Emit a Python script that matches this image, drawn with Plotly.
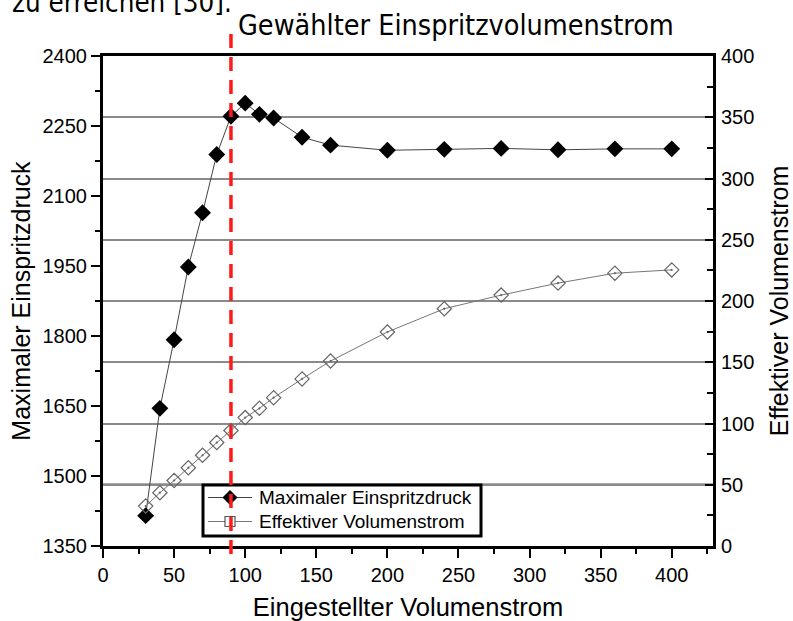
import plotly.graph_objects as go

# ---- data ----
eingestellt = [30, 40, 50, 60, 70, 80, 90, 100, 110, 120, 140, 160, 200, 240, 280, 320, 360, 400]
max_druck = [1415, 1645, 1792, 1948, 2064, 2189, 2271, 2299, 2275, 2267, 2226, 2209, 2198, 2200, 2202, 2199, 2201, 2201]
eff_volumen = [32.6, 43.5, 53.5, 63.9, 74.1, 84.5, 94.3, 104.8, 112.4, 121.1, 136.4, 151.0, 174.7, 193.7, 204.8, 214.6, 222.7, 225.4]

x_ticks = [0, 50, 100, 150, 200, 250, 300, 350, 400]
y_ticks = [1350, 1500, 1650, 1800, 1950, 2100, 2250, 2400]
y2_ticks = [0, 50, 100, 150, 200, 250, 300, 350, 400]

series_names = ["Maximaler Einspritzdruck", "Effektiver Volumenstrom"]

gewaehlt_x = 90          # selected injection volume flow (red dashed marker line)
dark_grid_y2 = 50        # darker reference line

FONT = "Liberation Sans, Arial, sans-serif"
NOTE_FONT = "Tahoma, DejaVu Sans Condensed, DejaVu Sans, sans-serif"

# ---- layout geometry (pixels) ----
W, H = 793, 621
ML, MR, MT, MB = 103, 80, 56, 75
PW, PH = W - ML - MR, H - MT - MB


def fx(px):
    return (px - ML) / PW


def fy(py):
    return (H - MB - py) / PH


fig = go.Figure()

fig.add_trace(go.Scatter(
    x=eingestellt, y=max_druck, name=series_names[0],
    mode="lines+markers",
    line=dict(color="#444444", width=1),
    marker=dict(symbol="diamond", size=13, color="black", line=dict(width=0)),
    yaxis="y", showlegend=False,
))
fig.add_trace(go.Scatter(
    x=eingestellt, y=eff_volumen, name=series_names[1],
    mode="lines+markers",
    line=dict(color="#777777", width=1),
    marker=dict(symbol="diamond-open-dot", size=11, color="#666666", line=dict(width=1.2)),
    yaxis="y2", showlegend=False,
))

# ---- legend box drawn as in the original (box, sample lines, symbols, labels) ----
LEG_L, LEG_R, LEG_T, LEG_B = 203, 481, 485, 536
ROW1, ROW2 = 497.5, 521.5
SYM_X, LINE_L, LINE_R, TEXT_X = 230, 208, 252, 257
d = 7.5
s = 5

shapes = [
    dict(type="line", xref="paper", yref="y2", x0=0, x1=1,
         y0=dark_grid_y2, y1=dark_grid_y2, line=dict(color="#555555", width=2.5), layer="below"),
    # legend frame
    dict(type="rect", xref="paper", yref="paper",
         x0=fx(LEG_L), x1=fx(LEG_R), y0=fy(LEG_B), y1=fy(LEG_T),
         line=dict(color="black", width=3), fillcolor="white", layer="above"),
    dict(type="line", xref="paper", yref="paper",
         x0=fx(LINE_L), x1=fx(LINE_R), y0=fy(ROW1), y1=fy(ROW1),
         line=dict(color="#444444", width=1), layer="above"),
    dict(type="path", xref="paper", yref="paper",
         path=(f"M {fx(SYM_X)},{fy(ROW1 - d)} L {fx(SYM_X + d)},{fy(ROW1)} "
               f"L {fx(SYM_X)},{fy(ROW1 + d)} L {fx(SYM_X - d)},{fy(ROW1)} Z"),
         fillcolor="black", line=dict(width=0), layer="above"),
    dict(type="line", xref="paper", yref="paper",
         x0=fx(LINE_L), x1=fx(LINE_R), y0=fy(ROW2), y1=fy(ROW2),
         line=dict(color="#777777", width=1), layer="above"),
    dict(type="rect", xref="paper", yref="paper",
         x0=fx(SYM_X - s), x1=fx(SYM_X + s), y0=fy(ROW2 + s), y1=fy(ROW2 - s),
         fillcolor="white", line=dict(color="#555555", width=1.2), layer="above"),
    # selected volume flow marker line
    dict(type="line", xref="x", yref="paper", x0=gewaehlt_x, x1=gewaehlt_x,
         y0=fy(554), y1=fy(28), line=dict(color="#ff1a1a", width=3.5, dash="14px,9px"), layer="above"),
]

annotations = [
    dict(text=series_names[0], xref="paper", yref="paper",
         x=fx(TEXT_X), y=fy(ROW1), xanchor="left", yanchor="middle", showarrow=False,
         font=dict(family=FONT, size=19, color="black")),
    dict(text=series_names[1], xref="paper", yref="paper",
         x=fx(TEXT_X), y=fy(ROW2), xanchor="left", yanchor="middle", showarrow=False,
         font=dict(family=FONT, size=19, color="black")),
    dict(text="Gewählter Einspritzvolumenstrom", xref="paper", yref="paper",
         x=0.218, y=1.025, xanchor="left", yanchor="bottom", showarrow=False,
         font=dict(family=NOTE_FONT, size=28.5, color="black")),
    dict(text="zu erreichen [30].", xref="paper", yref="paper",
         x=-0.1525, y=1.0735, xanchor="left", yanchor="bottom", showarrow=False,
         font=dict(family=NOTE_FONT, size=27.5, color="black")),
]

fig.update_layout(
    width=W, height=H,
    margin=dict(l=ML, r=MR, t=MT, b=MB, autoexpand=False),
    paper_bgcolor="white", plot_bgcolor="white",
    font=dict(family=FONT, size=20, color="black"),
    showlegend=False,
    xaxis=dict(
        range=[0, 429], tickvals=x_ticks,
        ticks="outside", ticklen=9, tickwidth=2, tickcolor="black",
        minor=dict(dtick=25, tick0=0, ticks="outside", ticklen=5, tickwidth=2, tickcolor="black"),
        showline=True, linewidth=3, linecolor="black", mirror=True,
        showgrid=False, zeroline=False, automargin=False,
        tickfont=dict(size=20),
        title=dict(text="Eingestellter Volumenstrom", font=dict(size=25.5), standoff=15),
    ),
    yaxis=dict(
        range=[1350, 2400], tickvals=y_ticks,
        ticks="outside", ticklen=9, tickwidth=2, tickcolor="black",
        minor=dict(dtick=75, tick0=1350, ticks="outside", ticklen=5, tickwidth=2, tickcolor="black"),
        showline=True, linewidth=3, linecolor="black",
        showgrid=False, zeroline=False, automargin=False,
        tickfont=dict(size=20), ticklabelstandoff=0,
        title=dict(text="Maximaler Einspritzdruck", font=dict(size=25), standoff=5),
    ),
    yaxis2=dict(
        overlaying="y", side="right",
        range=[0, 400], tickvals=y2_ticks,
        ticks="inside", ticklen=8, tickwidth=2, tickcolor="black",
        minor=dict(dtick=25, tick0=0, ticks="inside", ticklen=6, tickwidth=2, tickcolor="black"),
        showline=True, linewidth=3, linecolor="black",
        showgrid=True, gridcolor="#8a8a8a", gridwidth=1.5, zeroline=False, automargin=False,
        tickfont=dict(size=20), ticklabelstandoff=1,
        title=dict(text="Effektiver Volumenstrom", font=dict(size=25), standoff=20),
    ),
    shapes=shapes,
    annotations=annotations,
)

fig.write_html(
    "out.html",
    config={"displayModeBar": False},
    post_script="document.body.style.margin='0';document.body.style.padding='0';document.body.style.overflow='hidden';",
)
